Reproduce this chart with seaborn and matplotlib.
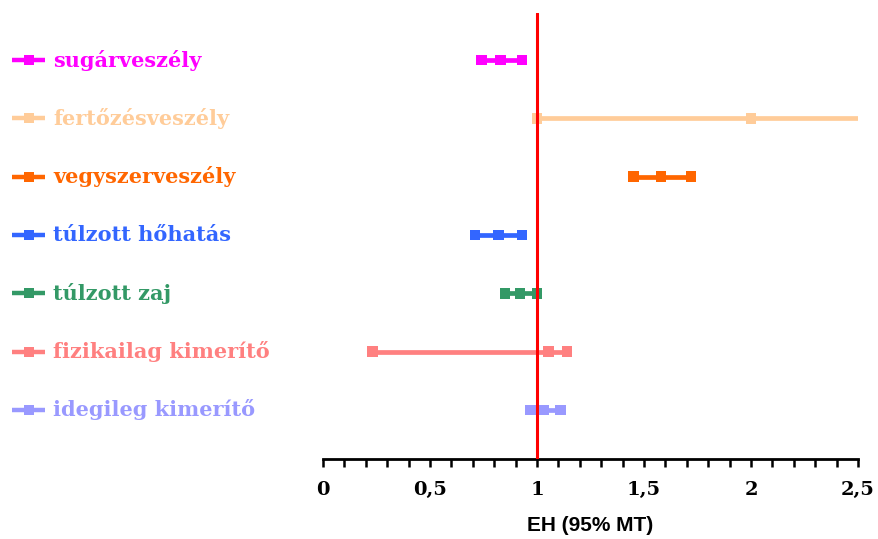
import matplotlib
matplotlib.use("Agg")
import matplotlib.pyplot as plt
import seaborn as sns
import pandas as pd
import numpy as np
from matplotlib.lines import Line2D
from matplotlib.ticker import MultipleLocator, FuncFormatter

sns.set_style("white")

categories = ["sugárveszély", "fertőzésveszély", "vegyszerveszély", "túlzott hőhatás",
              "túlzott zaj", "fizikailag kimerítő", "idegileg kimerítő"]
point = [0.83, 2.00, 1.58, 0.82, 0.92, 1.055, 1.03]
lower = [0.74, 1.00, 1.45, 0.71, 0.85, 0.23, 0.97]
upper = [0.93, 2.90, 1.72, 0.93, 1.00, 1.14, 1.11]
colors = ["#FF00FF", "#FFCC99", "#FF6600", "#3366FF", "#339966", "#FF8080", "#9999FF"]
xticks = [0, 0.5, 1, 1.5, 2, 2.5]

df = pd.DataFrame({"cat": categories, "point": point, "lower": lower, "upper": upper,
                   "ypos": np.arange(len(categories))})
long = df.melt(id_vars=["cat", "ypos"], value_vars=["lower", "point", "upper"],
               var_name="kind", value_name="x")

W, H = 879, 539
fig = plt.figure(figsize=(W / 100, H / 100), dpi=100)
ax = fig.add_axes([323 / W, (H - 459) / H, (858 - 323) / W, (459 - 13) / H])

pal = dict(zip(categories, colors))
lw = 3.4
for _, r in df.iterrows():
    ax.plot([r["lower"], r["upper"]], [r["ypos"], r["ypos"]], color=pal[r["cat"]],
            lw=lw, solid_capstyle="butt", zorder=2)
sns.scatterplot(data=long, x="x", y="ypos", hue="cat", palette=pal, marker="s", s=58,
                edgecolor="none", legend=False, ax=ax, zorder=3)

ax.axvline(1, color="#FF0000", lw=2.2, zorder=4)

ax.set_xlim(0, 2.5)
ax.set_xticks(xticks)
ax.set_ylim(6 + (459 - 410) / 58.33, -(60 - 13) / 58.33)
ax.set_yticks([])
ax.set_ylabel("")
for s in ["top", "right", "left"]:
    ax.spines[s].set_visible(False)
ax.spines["bottom"].set_linewidth(2)
ax.spines["bottom"].set_color("black")
ax.xaxis.set_minor_locator(MultipleLocator(0.1))
ax.xaxis.set_major_formatter(FuncFormatter(lambda v, p: ("%g" % v).replace(".", ",")))
ax.tick_params(axis="x", which="both", direction="out", length=6, width=1.8,
               color="black", labelcolor="black", bottom=True, pad=10)
for lab in ax.get_xticklabels():
    lab.set_fontfamily("DejaVu Serif")
    lab.set_fontweight("bold")
    lab.set_fontsize(14)
ax.set_xlabel("EH (95% MT)", fontfamily="Liberation Sans", fontweight="bold",
              fontsize=15, labelpad=12, color="black")

# left legend-style labels
trans = matplotlib.transforms.blended_transform_factory(fig.transFigure, ax.transData)
for i, (c, col) in enumerate(zip(categories, colors)):
    fig.add_artist(Line2D([12 / W, 45 / W], [i, i], transform=trans, color=col, lw=3.2,
                          solid_capstyle="butt"))
    fig.add_artist(Line2D([29 / W], [i], transform=trans, color=col, marker="s",
                          markersize=7, markeredgewidth=0))
    fig.text(53 / W, i, c, transform=trans, color=col, fontfamily="DejaVu Serif",
             fontweight="bold", fontsize=15, va="center", ha="left")

fig.savefig("out.png", dpi=100)
